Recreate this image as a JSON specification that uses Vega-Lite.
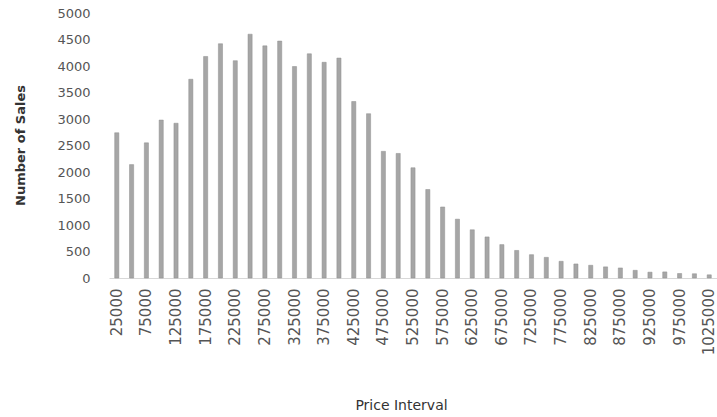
{
  "$schema": "https://vega.github.io/schema/vega-lite/v6.json",
  "autosize": {"type": "none"},
  "width": 608,
  "height": 265,
  "padding": {"left": 109, "top": 13, "right": 0, "bottom": 139},
  "background": "white",
  "config": {
    "view": {"stroke": null},
    "font": "DejaVu Sans",
    "axis": {"grid": false, "ticks": false, "tickSize": 0, "labelFont": "DejaVu Sans", "titleFont": "DejaVu Sans"}
  },
  "data": {
    "values": [
      {"price": 25000, "sales": 2740},
      {"price": 50000, "sales": 2140},
      {"price": 75000, "sales": 2550},
      {"price": 100000, "sales": 2980},
      {"price": 125000, "sales": 2920},
      {"price": 150000, "sales": 3750},
      {"price": 175000, "sales": 4180},
      {"price": 200000, "sales": 4420},
      {"price": 225000, "sales": 4100},
      {"price": 250000, "sales": 4600},
      {"price": 275000, "sales": 4380},
      {"price": 300000, "sales": 4470},
      {"price": 325000, "sales": 3990},
      {"price": 350000, "sales": 4230},
      {"price": 375000, "sales": 4070},
      {"price": 400000, "sales": 4150},
      {"price": 425000, "sales": 3330},
      {"price": 450000, "sales": 3100},
      {"price": 475000, "sales": 2390},
      {"price": 500000, "sales": 2350},
      {"price": 525000, "sales": 2080},
      {"price": 550000, "sales": 1670},
      {"price": 575000, "sales": 1340},
      {"price": 600000, "sales": 1110},
      {"price": 625000, "sales": 910},
      {"price": 650000, "sales": 775},
      {"price": 675000, "sales": 630},
      {"price": 700000, "sales": 520},
      {"price": 725000, "sales": 440},
      {"price": 750000, "sales": 390},
      {"price": 775000, "sales": 315},
      {"price": 800000, "sales": 265},
      {"price": 825000, "sales": 240},
      {"price": 850000, "sales": 210},
      {"price": 875000, "sales": 190},
      {"price": 900000, "sales": 145},
      {"price": 925000, "sales": 110},
      {"price": 950000, "sales": 115},
      {"price": 975000, "sales": 85},
      {"price": 1000000, "sales": 80},
      {"price": 1025000, "sales": 60}
    ]
  },
  "mark": {"type": "bar", "color": "#a6a6a6", "stroke": "#8f8f8f", "strokeWidth": 0.5},
  "encoding": {
    "x": {
      "field": "price",
      "type": "ordinal",
      "sort": "ascending",
      "scale": {"paddingInner": 0.72, "paddingOuter": 0.385},
      "axis": {
        "title": "Price Interval",
        "values": [25000, 75000, 125000, 175000, 225000, 275000, 325000, 375000, 425000, 475000, 525000, 575000, 625000, 675000, 725000, 775000, 825000, 875000, 925000, 975000, 1025000],
        "labelAngle": -90,
        "labelPadding": 10,
        "labelFontSize": 15,
        "labelColor": "#555555",
        "labelOverlap": false,
        "labelBound": false,
        "labelFlush": false,
        "domain": true,
        "domainColor": "#d8d8d8",
        "domainWidth": 1,
        "titleFontSize": 14,
        "titleFontWeight": "normal",
        "titleColor": "#333333",
        "titleX": 292,
        "titleY": 127,
        "titleAlign": "center",
        "titleBaseline": "middle"
      }
    },
    "y": {
      "field": "sales",
      "type": "quantitative",
      "scale": {"domain": [0, 5000], "nice": false},
      "axis": {
        "title": "Number of Sales",
        "values": [0, 500, 1000, 1500, 2000, 2500, 3000, 3500, 4000, 4500, 5000],
        "format": "d",
        "domain": false,
        "labelPadding": 19,
        "labelFontSize": 13,
        "labelColor": "#555555",
        "titleFontSize": 13,
        "titleFontWeight": "bold",
        "titleColor": "#333333",
        "titleX": -89,
        "titleY": 132,
        "titleAlign": "center",
        "titleBaseline": "middle"
      }
    }
  }
}
